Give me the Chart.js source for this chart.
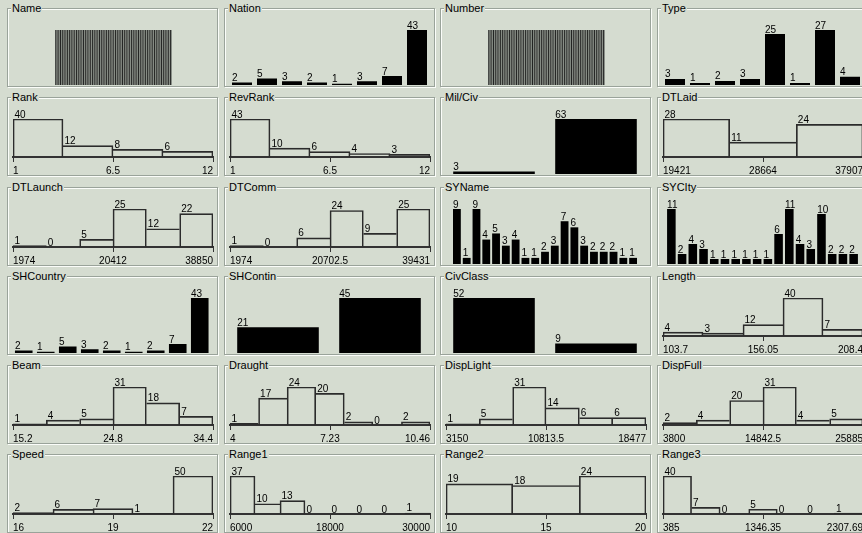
<!DOCTYPE html>
<html>
<head>
<meta charset="utf-8">
<script src="https://cdn.jsdelivr.net/npm/chart.js@4.4.1/dist/chart.umd.min.js"></script>
<style>
  html, body { margin: 0; padding: 0; }
  body { width: 862px; height: 533px; overflow: hidden; position: relative; background: #d5dcd0; }
  .panel { position: absolute; box-sizing: border-box; width: 211px; height: 79px;
           border: 1px solid #9aa39a; box-shadow: 1px 1px 0 #fbfdf9, inset 1px 1px 0 #fbfdf9; }
  .title { position: absolute; font: 11px "Liberation Sans Narrow", "Liberation Sans", Arial, sans-serif;
           line-height: 12px; padding: 0 1px; background: #d5dcd0; color: #000; white-space: nowrap; }
  canvas { position: absolute; }
</style>
</head>
<body>
<script>
// ---- attribute value counts ----
const nameCounts = [1,1,1,1,1,1,1,1,1,1,1,1,1,1,1,1,1,1,1,1,1,1,1,1,1,1,1,1,1,1,1,1,1,1,1,1,1,1,1,1,1,1,1,1,1,1,1,1,1,1,1,1,1,1,1,1,1,1,1,1,1,1,1,1,1,1];
const numberCounts = [1,1,1,1,1,1,1,1,1,1,1,1,1,1,1,1,1,1,1,1,1,1,1,1,1,1,1,1,1,1,1,1,1,1,1,1,1,1,1,1,1,1,1,1,1,1,1,1,1,1,1,1,1,1,1,1,1,1,1,1,1,1,1,1,1,1];
const nationCounts = [2, 5, 3, 2, 1, 3, 7, 43];
const typeCounts = [3, 1, 2, 3, 25, 1, 27, 4];
const rankCounts = [40, 12, 8, 6];
const revRankCounts = [43, 10, 6, 4, 3];
const milCivCounts = [3, 63];
const dtLaidCounts = [28, 11, 24];
const dtLaunchCounts = [1, 0, 5, 25, 12, 22];
const dtCommCounts = [1, 0, 6, 24, 9, 25];
const syNameCounts = [9, 1, 9, 4, 5, 3, 4, 1, 1, 2, 3, 7, 6, 3, 2, 2, 2, 1, 1];
const syCityCounts = [11, 2, 4, 3, 1, 1, 1, 1, 1, 1, 6, 11, 4, 3, 10, 2, 2, 2];
const shCountryCounts = [2, 1, 5, 3, 2, 1, 2, 7, 43];
const shContinCounts = [21, 45];
const civClassCounts = [52, 9];
const lengthCounts = [4, 3, 12, 40, 7];
const beamCounts = [1, 4, 5, 31, 18, 7];
const draughtCounts = [1, 17, 24, 20, 2, 0, 2];
const dispLightCounts = [1, 5, 31, 14, 6, 6];
const dispFullCounts = [2, 4, 20, 31, 4, 5];
const speedCounts = [2, 6, 7, 1, 50];
const range1Counts = [37, 10, 13, 0, 0, 0, 0, 1];
const range2Counts = [19, 18, 24];
const range3Counts = [40, 7, 0, 5, 0, 0, 1];

// ---- axis tick labels (min, middle, max) ----
const rankTicks = ['1', '6.5', '12'];
const revRankTicks = ['1', '6.5', '12'];
const dtLaidTicks = ['19421', '28664', '37907'];
const dtLaunchTicks = ['1974', '20412', '38850'];
const dtCommTicks = ['1974', '20702.5', '39431'];
const lengthTicks = ['103.7', '156.05', '208.4'];
const beamTicks = ['15.2', '24.8', '34.4'];
const draughtTicks = ['4', '7.23', '10.46'];
const dispLightTicks = ['3150', '10813.5', '18477'];
const dispFullTicks = ['3800', '14842.5', '25885'];
const speedTicks = ['16', '19', '22'];
const range1Ticks = ['6000', '18000', '30000'];
const range2Ticks = ['10', '15', '20'];
const range3Ticks = ['385', '1346.35', '2307.69'];

// ---- panel grid (row-major, 4 per row) ----
const panels = [
  { title: 'Name',      kind: 'ids',     counts: nameCounts,      area: [48, 165] },
  { title: 'Nation',    kind: 'nominal', counts: nationCounts,    area: [5.5, 205.5] },
  { title: 'Number',    kind: 'ids',     counts: numberCounts,    area: [48, 165] },
  { title: 'Type',      kind: 'nominal', counts: typeCounts,      area: [5.5, 205.5] },
  { title: 'Rank',      kind: 'hist',    counts: rankCounts,      ticks: rankTicks },
  { title: 'RevRank',   kind: 'hist',    counts: revRankCounts,   ticks: revRankTicks },
  { title: 'Mil/Civ',   kind: 'nominal', counts: milCivCounts,    area: [3, 207] },
  { title: 'DTLaid',    kind: 'hist',    counts: dtLaidCounts,    ticks: dtLaidTicks },
  { title: 'DTLaunch',  kind: 'hist',    counts: dtLaunchCounts,  ticks: dtLaunchTicks },
  { title: 'DTComm',    kind: 'hist',    counts: dtCommCounts,    ticks: dtCommTicks },
  { title: 'SYName',    kind: 'nominal', counts: syNameCounts,    area: [12, 198] },
  { title: 'SYCIty',    kind: 'nominal', counts: syCityCounts,    area: [9, 202] },
  { title: 'SHCountry', kind: 'nominal', counts: shCountryCounts, area: [5.75, 203.75] },
  { title: 'SHContin',  kind: 'nominal', counts: shContinCounts,  area: [3, 207] },
  { title: 'CivClass',  kind: 'nominal', counts: civClassCounts,  area: [3, 207] },
  { title: 'Length',    kind: 'hist',    counts: lengthCounts,    ticks: lengthTicks },
  { title: 'Beam',      kind: 'hist',    counts: beamCounts,      ticks: beamTicks },
  { title: 'Draught',   kind: 'hist',    counts: draughtCounts,   ticks: draughtTicks },
  { title: 'DispLight', kind: 'hist',    counts: dispLightCounts, ticks: dispLightTicks },
  { title: 'DispFull',  kind: 'hist',    counts: dispFullCounts,  ticks: dispFullTicks },
  { title: 'Speed',     kind: 'hist',    counts: speedCounts,     ticks: speedTicks },
  { title: 'Range1',    kind: 'hist',    counts: range1Counts,    ticks: range1Ticks },
  { title: 'Range2',    kind: 'hist',    counts: range2Counts,    ticks: range2Ticks },
  { title: 'Range3',    kind: 'hist',    counts: range3Counts,    ticks: range3Ticks }
];

const colLefts = [7, 224, 440, 657];
const rowTops = [8, 97, 187, 276, 365, 454];
const FONT_FAMILY = "'Liberation Sans Narrow', 'Liberation Sans', Arial, sans-serif";
const BG = '#d5dcd0';

// writes each bar's count just above its top-left corner
const countLabels = {
  id: 'countLabels',
  afterDatasetsDraw(chart, args, opts) {
    if (!opts.show) return;
    const ctx = chart.ctx;
    const meta = chart.getDatasetMeta(0);
    const values = chart.data.datasets[0].data;
    ctx.save();
    ctx.font = '10px ' + FONT_FAMILY;
    ctx.fillStyle = '#000';
    ctx.textAlign = 'left';
    ctx.textBaseline = 'alphabetic';
    meta.data.forEach((bar, i) => {
      const p = bar.getProps(['x', 'y', 'width'], true);
      ctx.fillText(String(values[i]), p.x - p.width / 2 + opts.dx, p.y - 1.5);
    });
    ctx.restore();
  }
};

function histBorders(counts) {
  const n = counts.length;
  return (c) => {
    const i = c.dataIndex;
    return {
      top: 1,
      bottom: 0,
      left: (i === 0 || counts[i] > counts[i - 1]) ? 1 : 0,
      right: (i === n - 1 || counts[i] >= counts[i + 1]) ? 1 : 0
    };
  };
}

panels.forEach((p, k) => {
  const L = colLefts[k % 4];
  const T = rowTops[Math.floor(k / 4)];

  const box = document.createElement('div');
  box.className = 'panel';
  box.style.left = L + 'px';
  box.style.top = T + 'px';
  document.body.appendChild(box);

  const cv = document.createElement('canvas');
  cv.width = 209; cv.height = 70;
  cv.style.left = (L + 1) + 'px';
  cv.style.top = (T + 8) + 'px';
  document.body.appendChild(cv);

  const title = document.createElement('div');
  title.className = 'title';
  title.textContent = p.title;
  title.style.left = (L + 4) + 'px';
  title.style.top = (T - 6) + 'px';
  document.body.appendChild(title);

  const hist = p.kind === 'hist';
  const area = p.area || [6, 206];
  const ymax = Math.max(...p.counts);

  let dataset;
  if (hist) {
    dataset = { data: p.counts, backgroundColor: 'rgba(0,0,0,0)', borderColor: '#2b2b2b',
                borderWidth: histBorders(p.counts), barPercentage: 1, categoryPercentage: 1 };
  } else if (p.kind === 'ids') {
    dataset = { data: p.counts, backgroundColor: '#8a9088', borderColor: '#141414',
                borderWidth: { left: 1, right: 0, top: 0, bottom: 0 }, barPercentage: 1, categoryPercentage: 1 };
  } else {
    dataset = { data: p.counts, backgroundColor: '#000', borderWidth: 0,
                barPercentage: 0.8, categoryPercentage: 1 };
  }

  const scales = {
    x: { display: false, offset: true },
    y: { display: false, min: 0, max: ymax }
  };
  if (hist) {
    scales.x2 = {
      type: 'category', labels: p.ticks, position: 'bottom', offset: false,
      grid: { offset: false, drawOnChartArea: false, drawTicks: true, tickLength: 5, color: '#333', lineWidth: 1 },
      border: { display: true, color: '#333', width: 2 },
      ticks: { align: 'inner', autoSkip: false, maxRotation: 0, minRotation: 0, padding: 3, color: '#000',
               font: { family: FONT_FAMILY, size: 10 } },
      afterFit(s) { s.height = 18; }
    };
  }

  new Chart(cv, {
    type: 'bar',
    data: { labels: p.counts.map((_, i) => String(i + 1)), datasets: [dataset] },
    options: {
      responsive: false, animation: false, devicePixelRatio: 1,
      layout: { padding: { top: 14, left: area[0] - 1, right: 210 - area[1], bottom: hist ? 0 : 1 } },
      plugins: { legend: { display: false }, tooltip: { enabled: false },
                 countLabels: { show: p.kind !== 'ids', dx: hist ? 1.5 : 0 } },
      scales
    },
    plugins: [countLabels]
  });
});
</script>
</body>
</html>
